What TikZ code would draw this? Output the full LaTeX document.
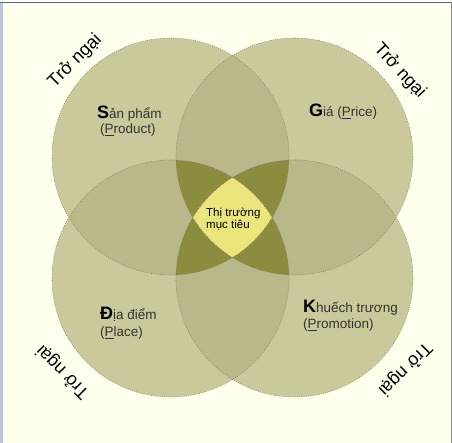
\documentclass[tikz,border=0pt]{standalone}
\usepackage{fontspec}
\setmainfont{Liberation Sans}
\definecolor{bgc}{HTML}{FFFFEE}
\definecolor{base}{HTML}{C9C99B}
\definecolor{dbl}{HTML}{B8B88A}
\definecolor{trip}{HTML}{8C8C3E}
\definecolor{quad}{HTML}{EAE67C}
\definecolor{edge}{HTML}{7A7A6A}
\definecolor{txt}{HTML}{333333}
\definecolor{leftband}{HTML}{BCC2DA}
\definecolor{topline}{HTML}{56648E}
\definecolor{rightline}{HTML}{8A8A8A}
\newcommand{\BigL}[1]{{\fontsize{18}{18}\selectfont\bfseries\color{black}#1}}
\begin{document}
\begin{tikzpicture}[x=1pt,y=1pt,
  lbl/.style={font=\fontsize{13.5}{15}\selectfont, text=txt, inner sep=0pt, anchor=base west},
  ctr/.style={font=\fontsize{11.5}{13}\selectfont, text=black, inner sep=0pt, anchor=base west},
  obst/.style={font=\fontsize{18}{20}\selectfont, text=black, inner sep=0pt, anchor=center},
  ring/.style={draw=edge, line width=0.6pt, dash pattern=on 0.7pt off 1.5pt}]
\useasboundingbox (0,0) rectangle (452,443);
% background and frame
\fill[bgc] (0,0) rectangle (452,443);
\fill[leftband] (0,0) rectangle (3,440.5);
\fill[topline] (0,440) rectangle (452,441.3);
\fill[rightline] (450.5,0) rectangle (452,441.3);
% circle centres
\coordinate (A) at (170.5,286.5);
\coordinate (B) at (294.5,286.5);
\coordinate (C) at (170.5,164.5);
\coordinate (D) at (294.5,164.5);
\def\R{118.5}
% single
\foreach \p in {A,B,C,D} { \fill[base] (\p) circle[radius=\R]; }
% pairs
\foreach \p/\q in {A/B,A/C,A/D,B/C,B/D,C/D} {
  \begin{scope}
    \clip (\p) circle[radius=\R];
    \fill[dbl] (\q) circle[radius=\R];
  \end{scope}
}
% triples
\foreach \p/\q/\s in {A/B/C,A/B/D,A/C/D,B/C/D} {
  \begin{scope}
    \clip (\p) circle[radius=\R];
    \clip (\q) circle[radius=\R];
    \fill[trip] (\s) circle[radius=\R];
  \end{scope}
}
% all four
\begin{scope}
  \clip (A) circle[radius=\R];
  \clip (B) circle[radius=\R];
  \clip (C) circle[radius=\R];
  \fill[quad] (D) circle[radius=\R];
\end{scope}
% outlines
\foreach \p in {A,B,C,D} { \draw[ring] (\p) circle[radius=\R]; }
% labels
\node[lbl] (sp) at (97,324) {\BigL{S}ản phẩm};
\node[lbl] (spe) at (100,309) {(\underline{P}roduct)};
\node[lbl] (gia) at (309,326) {\BigL{G}iá (\underline{P}rice)};
\node[lbl] (dd) at (100,123) {\BigL{Đ}ịa điểm};
\node[lbl] (dde) at (100,106) {(\underline{P}lace)};
\node[lbl] (kt) at (303,130) {\BigL{K}huếch trương};
\node[lbl] (kte) at (303,114) {(\underline{P}romotion)};
\node[ctr] (m1) at (206,226) {Thị trường};
\node[ctr] (m2) at (206,214) {mục tiêu};
% obstacles
\node[obst, rotate=45] (o1) at (75,382) {Trở ngại};
\node[obst, rotate=-47] (o2) at (400,372) {Trở ngại};
\node[obst, rotate=135] (o3) at (63,71) {Trở ngại};
\node[obst, rotate=225] (o4) at (405,74) {Trở ngại};
\end{tikzpicture}
\end{document}
